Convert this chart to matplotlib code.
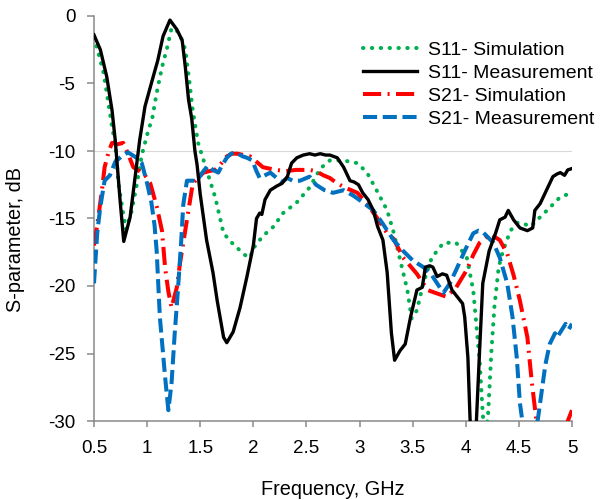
import matplotlib
matplotlib.use("Agg")
import matplotlib.pyplot as plt

plt.rcParams['font.family'] = ['Liberation Sans', 'DejaVu Sans']

# S11 simulation
s11_sim_f = [0.5, 0.55, 0.59, 0.63, 0.67, 0.70, 0.73, 0.77, 0.80, 0.85, 0.90, 0.95, 1.0, 1.05,
             1.09, 1.14, 1.19, 1.23, 1.27, 1.31, 1.36, 1.40, 1.43, 1.48, 1.52, 1.56, 1.64, 1.72,
             1.81, 1.92, 1.97, 2.0, 2.09, 2.19, 2.28, 2.41, 2.53, 2.63, 2.72, 2.85, 2.98, 3.07,
             3.16, 3.26, 3.32, 3.38, 3.45, 3.49, 3.54, 3.60, 3.68, 3.79, 3.91, 4.01, 4.07, 4.13,
             4.16, 4.185, 4.21, 4.24, 4.27, 4.31, 4.35, 4.42, 4.49, 4.55, 4.61, 4.70, 4.79, 4.89, 5.0]
s11_sim_db = [-1.6, -3.0, -4.2, -6.2, -8.2, -9.5, -12.4, -14.4, -15.8, -14.6, -12.6, -10.3, -8.8, -7.5,
              -5.7, -3.8, -2.3, -0.9, -1.0, -1.4, -2.5, -5.0, -7.0, -9.4, -10.4, -11.4, -13.4, -16.1,
              -16.9, -17.7, -17.9, -17.2, -16.3, -15.6, -14.6, -13.8, -12.7, -11.3, -10.7, -10.7, -10.9, -11.6,
              -12.9, -14.4, -16.0, -18.0, -20.3, -22.4, -21.8, -19.8, -17.9, -16.8, -16.8, -17.9, -20.3, -25.5,
              -29.5, -31.5, -29.5, -25.0, -21.5, -18.6, -17.4, -15.9, -15.3, -15.4, -15.6, -14.9, -14.2, -13.4, -13.1]

# S11 measurement
s11_meas_f = [0.5, 0.56, 0.62, 0.67, 0.70, 0.745, 0.78, 0.84, 0.93, 0.98, 1.05, 1.10, 1.15, 1.215,
              1.28, 1.33, 1.36, 1.39, 1.42, 1.45, 1.47, 1.50, 1.56, 1.62, 1.66, 1.72, 1.75, 1.78,
              1.81, 1.875, 1.94, 2.0, 2.03, 2.06, 2.08, 2.11, 2.16, 2.22, 2.27, 2.32, 2.36, 2.41,
              2.47, 2.53, 2.58, 2.63, 2.68, 2.72, 2.79, 2.85, 2.91, 2.95, 2.99, 3.03, 3.08, 3.13,
              3.17, 3.22, 3.26, 3.30, 3.33, 3.38, 3.43, 3.48, 3.54, 3.59, 3.62, 3.66, 3.69, 3.73,
              3.78, 3.82, 3.87, 3.92, 3.97, 3.99, 4.02, 4.04, 4.07, 4.10, 4.13, 4.16, 4.22, 4.28,
              4.32, 4.37, 4.40, 4.45, 4.51, 4.58, 4.63, 4.65, 4.70, 4.73, 4.76, 4.82, 4.86, 4.89,
              4.93, 4.96, 5.0]
s11_meas_db = [-1.4, -2.5, -4.5, -7.0, -9.2, -13.6, -16.7, -14.9, -9.2, -6.7, -4.7, -3.3, -1.5, -0.3,
               -1.0, -1.8, -3.8, -6.2, -7.6, -10.0, -11.0, -13.2, -16.6, -19.0, -21.1, -23.8, -24.2, -23.8,
               -23.4, -21.6, -19.3, -17.0, -15.0, -14.6, -14.7, -13.6, -12.9, -12.6, -12.4, -11.9, -10.9, -10.5,
               -10.3, -10.2, -10.3, -10.2, -10.3, -10.3, -10.5, -11.2, -12.2, -12.3, -12.5, -13.1, -13.6, -14.4,
               -15.6, -16.6, -19.0, -23.5, -25.5, -24.8, -24.3, -22.3, -20.3, -20.1, -18.6, -18.5, -18.6, -19.3,
               -19.1, -19.2, -20.3, -20.8, -21.3, -22.3, -25.3, -29.8, -33.0, -30.0, -24.8, -19.8, -17.4, -16.1,
               -15.1, -14.9, -14.4, -15.1, -15.7, -15.9, -15.7, -14.4, -13.9, -13.4, -12.9, -11.9, -11.7, -11.6,
               -11.8, -11.4, -11.3]

# S21 simulation
s21_sim_f = [0.5, 0.53, 0.57, 0.60, 0.64, 0.67, 0.72, 0.775, 0.82, 0.87, 0.93, 0.98, 1.03, 1.09,
             1.14, 1.17, 1.20, 1.23, 1.28, 1.31, 1.375, 1.43, 1.48, 1.53, 1.58, 1.64, 1.70, 1.75,
             1.80, 1.85, 1.91, 1.97, 2.03, 2.09, 2.15, 2.22, 2.30, 2.40, 2.53, 2.59, 2.66, 2.72,
             2.79, 2.86, 2.98, 3.07, 3.16, 3.26, 3.32, 3.41, 3.54, 3.64, 3.71, 3.82, 3.91, 4.01,
             4.07, 4.13, 4.19, 4.24, 4.28, 4.32, 4.39, 4.45, 4.51, 4.58, 4.62, 4.65, 4.68, 4.72,
             4.8, 4.9, 4.96, 5.0]
s21_sim_db = [-17.0, -15.5, -13.2, -11.2, -10.0, -9.4, -9.5, -9.4, -10.2, -11.2, -11.5, -11.8, -12.4, -14.1,
              -15.9, -18.7, -20.4, -21.6, -20.1, -18.3, -15.1, -12.4, -12.0, -11.6, -11.5, -11.4, -10.9, -10.4,
              -10.2, -10.2, -10.3, -10.4, -10.8, -11.2, -11.3, -11.4, -11.5, -11.4, -11.4, -11.5, -11.8, -12.0,
              -12.4, -12.7, -13.1, -13.9, -14.9, -16.1, -16.5, -17.9, -19.1, -20.3, -20.5, -20.8, -20.1, -18.8,
              -17.7, -16.8, -16.4, -16.2, -16.4, -16.6, -17.6, -19.2, -21.1, -23.8, -27.0, -29.0, -31.0, -33.0,
              -35.0, -33.0, -30.0, -29.2]

# S21 measurement
s21_meas_f = [0.5, 0.53, 0.56, 0.60, 0.65, 0.70, 0.76, 0.82, 0.86, 0.90, 0.95, 1.0, 1.04, 1.07,
              1.09, 1.12, 1.17, 1.20, 1.23, 1.26, 1.29, 1.32, 1.34, 1.375, 1.42, 1.47, 1.52, 1.57,
              1.62, 1.67, 1.71, 1.75, 1.79, 1.83, 1.90, 1.94, 1.99, 2.03, 2.06, 2.11, 2.16, 2.22,
              2.27, 2.32, 2.37, 2.44, 2.53, 2.59, 2.67, 2.75, 2.85, 2.94, 3.03, 3.13, 3.22, 3.32,
              3.41, 3.50, 3.60, 3.68, 3.73, 3.79, 3.85, 3.91, 3.99, 4.07, 4.12, 4.16, 4.21, 4.26,
              4.32, 4.39, 4.44, 4.48, 4.51, 4.55, 4.6, 4.65, 4.68, 4.72, 4.75, 4.79, 4.84, 4.86,
              4.90, 4.94, 4.97, 5.0]
s21_meas_db = [-19.8, -16.1, -14.1, -12.2, -11.8, -10.8, -10.4, -10.1, -10.3, -10.5, -10.9, -12.4, -13.8, -15.5,
               -17.4, -22.3, -26.8, -29.2, -27.2, -23.5, -20.3, -16.8, -14.0, -12.2, -12.2, -12.2, -11.6, -11.1,
               -11.4, -11.6, -11.0, -10.5, -10.2, -10.1, -10.4, -10.5, -10.7, -11.5, -12.0, -11.8, -11.6, -12.0,
               -12.3, -12.0, -12.2, -12.2, -11.9, -12.5, -12.9, -13.1, -12.9, -13.3, -13.8, -14.4, -15.4, -16.6,
               -17.4, -18.1, -18.6, -19.2, -19.8, -20.5, -19.8, -18.8, -17.4, -16.1, -15.9, -16.0, -16.4, -16.8,
               -17.9, -19.8, -22.3, -25.3, -28.7, -31.0, -33.0, -31.0, -29.8, -27.5, -25.8, -24.3, -23.5, -23.8,
               -23.3, -22.8, -23.2, -22.8]

x_ticks = [0.5, 1, 1.5, 2, 2.5, 3, 3.5, 4, 4.5, 5]
x_tick_labels = ['0.5', '1', '1.5', '2', '2.5', '3', '3.5', '4', '4.5', '5']
y_ticks = [0, -5, -10, -15, -20, -25, -30]

TICK_FS = 13.5
LABEL_FS = 14.3
LEGEND_FS = 14
axis_grey = '#898989'

fig = plt.figure(figsize=(6.01, 5.00), dpi=100)
ax = fig.add_axes([94 / 601, 79 / 500, (572 - 94) / 601, (421 - 16) / 500])

ax.axhline(-10, color='#d9d9d9', lw=0.8, zorder=0)

ax.plot(s11_sim_f, s11_sim_db, color='#00B050', lw=2.9, linestyle=(0, (0.1, 2.1)),
        dash_capstyle='round', label='S11- Simulation', zorder=3)
ax.plot(s11_meas_f, s11_meas_db, color='black', lw=2.4, label='S11- Measurement', zorder=4)
ax.plot(s21_sim_f, s21_sim_db, color='#FF0000', lw=2.9, linestyle=(0, (4.5, 1.6, 0.5, 1.6)),
        label='S21- Simulation', zorder=3)
ax.plot(s21_meas_f, s21_meas_db, color='#0070C0', lw=2.9, linestyle=(0, (3.5, 1.4)),
        label='S21- Measurement', zorder=3)

ax.set_xlim(0.5, 5)
ax.set_ylim(-30, 0)
ax.set_xticks(x_ticks)
ax.set_xticklabels(x_tick_labels)
ax.set_yticks(y_ticks)
ax.set_yticklabels([str(v) for v in y_ticks])

for side in ('top', 'right'):
    ax.spines[side].set_visible(False)
for side in ('left', 'bottom'):
    ax.spines[side].set_color(axis_grey)
    ax.spines[side].set_linewidth(1.1)
ax.tick_params(axis='both', direction='out', width=1.1, color=axis_grey,
               labelsize=TICK_FS, labelcolor='black')
ax.tick_params(axis='y', length=5, pad=8.5)
ax.tick_params(axis='x', length=4.5, pad=9.5)

# axis titles placed in figure coordinates
fig.text(333 / 601, 1 - 495 / 500, 'Frequency, GHz', fontsize=LABEL_FS,
         ha='center', va='baseline')
fig.text(16 / 601, 1 - 240 / 500, 'S-parameter, dB', fontsize=LABEL_FS,
         ha='center', va='center', rotation=90)

ax.legend(loc='upper left', bbox_to_anchor=(363 / 601, 1 - 41 / 500),
          bbox_transform=fig.transFigure, frameon=False, fontsize=LEGEND_FS,
          handlelength=2.8, handletextpad=0.55, labelspacing=0.28,
          borderpad=0, borderaxespad=0)

fig.savefig('out.png', dpi=100)
